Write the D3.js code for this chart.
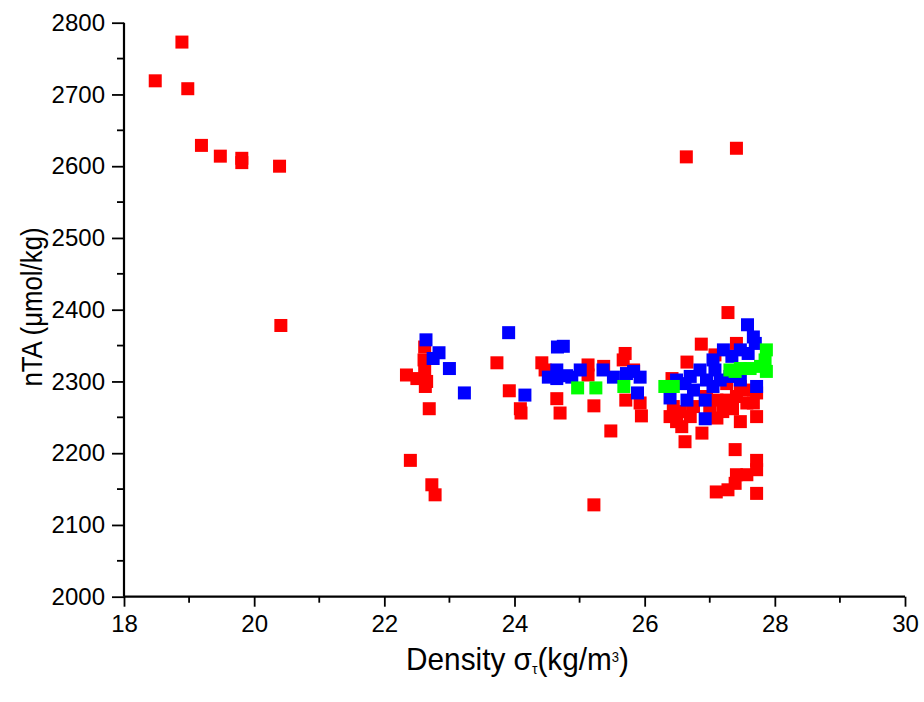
<!DOCTYPE html>
<html>
<head>
<meta charset="utf-8">
<script src="https://cdn.jsdelivr.net/npm/d3@7"></script>
<style>
  body { margin: 0; background: #fff; }
  svg text { font-family: "Liberation Sans", Arial, sans-serif; fill: #000; }
</style>
</head>
<body>
<div id="chart"></div>
<script>
// density sigma-t vs nTA, three groups
const redPoints = [
    [18.89, 2773], [18.48, 2719], [18.98, 2708], [19.19, 2629], [19.48, 2614],
    [19.81, 2611], [19.81, 2605], [20.39, 2600], [20.41, 2378],
    [26.64, 2613], [27.41, 2625],
    [22.62, 2348], [22.61, 2330], [22.62, 2318], [22.34, 2309], [22.50, 2304],
    [22.65, 2300], [22.63, 2293], [22.69, 2262], [22.40, 2190], [22.73, 2156],
    [22.78, 2142], [23.73, 2326], [23.92, 2287], [24.09, 2262], [24.10, 2256],
    [24.42, 2326], [24.47, 2316], [24.65, 2276], [24.70, 2256], [25.13, 2323],
    [25.13, 2309], [25.22, 2266], [25.22, 2128], [25.37, 2321], [25.48, 2231],
    [25.70, 2339], [25.67, 2330], [25.71, 2274], [25.93, 2270], [25.95, 2252],
    [25.83, 2316],
    [27.28, 2396], [26.87, 2352], [27.41, 2353], [26.65, 2327], [27.08, 2337],
    [26.42, 2304], [26.39, 2251], [26.49, 2244], [26.57, 2237], [26.70, 2251],
    [26.62, 2216], [26.88, 2228], [27.11, 2249], [27.11, 2274], [27.26, 2274],
    [27.41, 2279], [27.47, 2244], [27.57, 2288], [27.67, 2270], [27.72, 2251],
    [27.39, 2205], [27.72, 2190], [27.72, 2177], [27.57, 2170], [27.41, 2170],
    [27.39, 2158], [27.28, 2149], [27.10, 2146], [27.72, 2144], [26.95, 2279],
    [27.26, 2297], [27.47, 2293], [27.57, 2270], [27.72, 2284], [26.44, 2265],
    [26.75, 2265], [26.55, 2258], [27.00, 2262], [27.20, 2258], [27.35, 2262]
];

const bluePoints = [
    [22.64, 2358], [22.84, 2340], [22.75, 2332], [23.00, 2318], [23.23, 2284],
    [23.91, 2368], [24.16, 2281], [24.66, 2348], [24.75, 2349], [24.52, 2306],
    [24.65, 2316], [24.65, 2304], [24.80, 2308], [25.01, 2316], [24.88, 2306],
    [25.36, 2316], [25.52, 2306], [25.72, 2311], [25.83, 2314], [25.93, 2306],
    [25.89, 2284],
    [27.58, 2379], [27.67, 2362], [27.70, 2353], [27.47, 2344], [27.34, 2335],
    [27.59, 2339], [27.05, 2330], [27.08, 2316], [26.85, 2316], [26.70, 2307],
    [26.62, 2297], [26.49, 2302], [26.75, 2288], [26.93, 2274], [26.65, 2274],
    [26.39, 2277], [26.93, 2248], [27.72, 2293], [27.16, 2302], [27.31, 2307],
    [27.47, 2302], [27.21, 2344], [26.95, 2302], [27.05, 2293]
];

const greenPoints = [
    [24.97, 2291], [25.25, 2291], [25.68, 2293], [26.44, 2293], [26.31, 2293],
    [27.31, 2316], [27.39, 2314], [27.47, 2318], [27.62, 2318], [27.78, 2321],
    [27.85, 2330], [27.87, 2344], [27.87, 2314]
];

const xMajorTicks = [18, 20, 22, 24, 26, 28, 30];
const xMinorTicks = [19, 21, 23, 25, 27, 29];
const yMajorTicks = [2000, 2100, 2200, 2300, 2400, 2500, 2600, 2700, 2800];
const yMinorTicks = [2050, 2150, 2250, 2350, 2450, 2550, 2650, 2750];

const W = 924, H = 702;
const plotLeft = 124, plotRight = 905, plotTop = 22.7, plotBottom = 596.7;
const markerSize = 13;

const svg = d3.select("#chart")
    .append("svg")
    .attr("width", W)
    .attr("height", H);

const x = d3.scaleLinear().domain([18, 30]).range([plotLeft, plotRight]);
const y = d3.scaleLinear().domain([2000, 2800]).range([plotBottom, plotTop]);

// points first so axes sit on top
const series = [
    { pts: redPoints, color: "#ff0000" },
    { pts: bluePoints, color: "#0000ff" },
    { pts: greenPoints, color: "#00ff00" }
];

series.forEach(s => {
    svg.append("g")
        .selectAll("rect")
        .data(s.pts)
        .enter()
        .append("rect")
        .attr("x", d => x(d[0]) - markerSize / 2)
        .attr("y", d => y(d[1]) - markerSize / 2)
        .attr("width", markerSize)
        .attr("height", markerSize)
        .style("fill", s.color);
});

// x axis
const xAxis = d3.axisBottom(x)
    .tickValues(xMajorTicks)
    .tickSize(10)
    .tickPadding(8)
    .tickFormat(d3.format("d"));

const gx = svg.append("g")
    .attr("transform", `translate(0, ${plotBottom})`)
    .call(xAxis);
gx.select(".domain").attr("stroke-width", 2.2).attr("d", `M${plotLeft},0H${plotRight}`);
gx.selectAll(".tick line").attr("stroke-width", 1.8);
gx.selectAll(".tick text").style("font-size", "24px").attr("font-family", null);

gx.append("g")
    .selectAll("line")
    .data(xMinorTicks)
    .enter()
    .append("line")
    .attr("x1", d => x(d))
    .attr("x2", d => x(d))
    .attr("y1", 0)
    .attr("y2", 6)
    .attr("stroke", "#000")
    .attr("stroke-width", 1.8);

// y axis
const yAxis = d3.axisLeft(y)
    .tickValues(yMajorTicks)
    .tickSize(12)
    .tickPadding(7)
    .tickFormat(d3.format("d"));

const gy = svg.append("g")
    .attr("transform", `translate(${plotLeft}, 0)`)
    .call(yAxis);
gy.select(".domain").attr("stroke-width", 2.2).attr("d", `M0,${plotTop}V${plotBottom}`);
gy.selectAll(".tick line").attr("stroke-width", 1.8);
gy.selectAll(".tick text").style("font-size", "24px").attr("font-family", null);

gy.append("g")
    .selectAll("line")
    .data(yMinorTicks)
    .enter()
    .append("line")
    .attr("x1", -7)
    .attr("x2", 0)
    .attr("y1", d => y(d))
    .attr("y2", d => y(d))
    .attr("stroke", "#000")
    .attr("stroke-width", 1.8);

// axis titles (reference font is a little condensed)
const xt = svg.append("text")
    .attr("transform", `translate(${(plotLeft + plotRight) / 2 + 3}, 670) scale(0.93, 1)`)
    .attr("text-anchor", "middle")
    .style("font-size", "32px");
xt.append("tspan").text("Density σ");
xt.append("tspan").attr("baseline-shift", "-30%").style("font-size", "15px").text("τ");
xt.append("tspan").text("(kg/m");
xt.append("tspan").attr("baseline-shift", "60%").style("font-size", "14px").text("3");
xt.append("tspan").text(")");

svg.append("text")
    .attr("transform", "translate(42, 307) rotate(-90) scale(0.86, 1)")
    .attr("text-anchor", "middle")
    .style("font-size", "30px")
    .text("nTA (μmol/kg)");
</script>
</body>
</html>
